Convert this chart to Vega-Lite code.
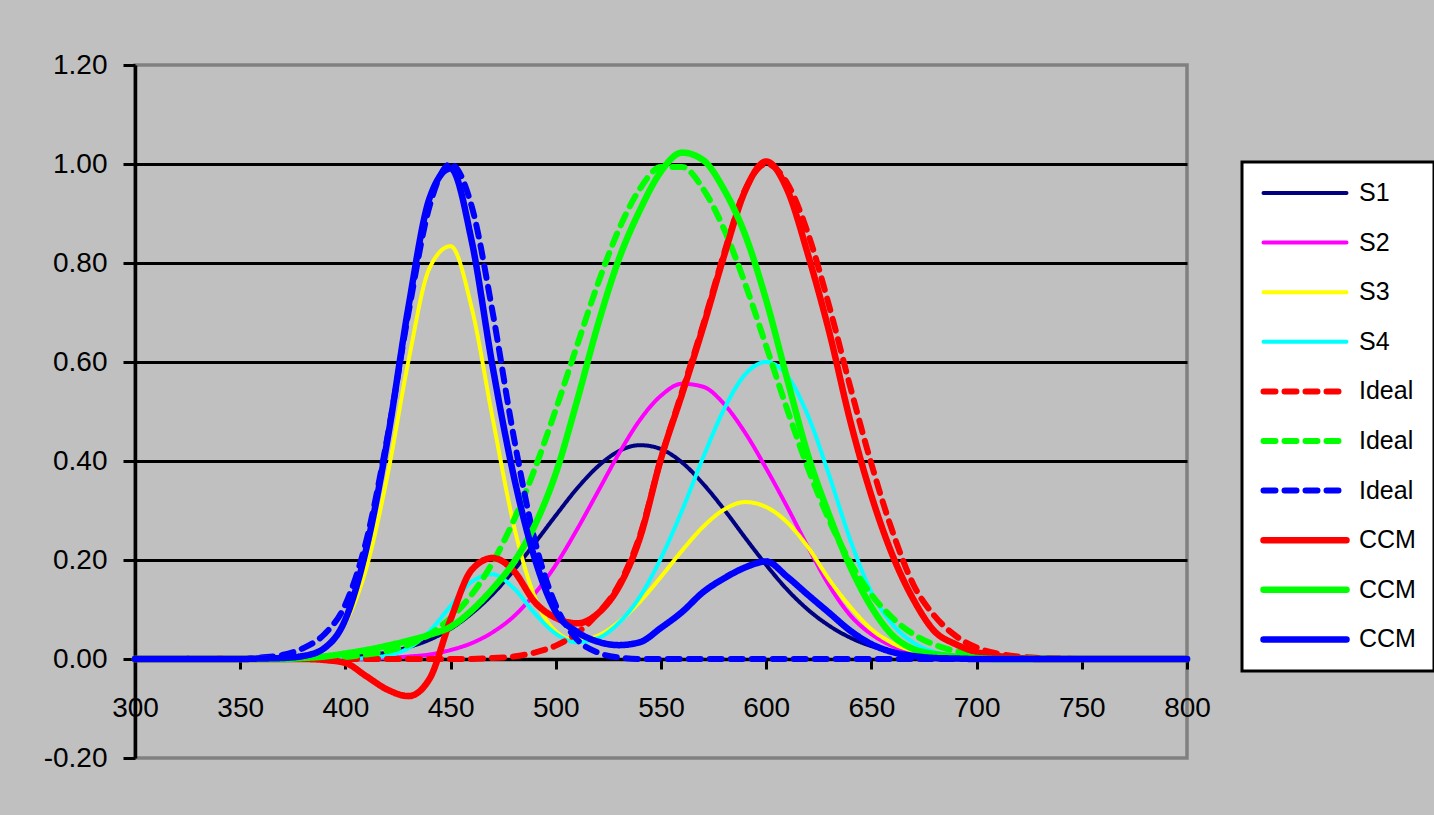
{
"$schema":"https://vega.github.io/schema/vega-lite/v6.json",
"width":1052,"height":693,
"autosize":{"type":"none"},
"padding":{"left":135,"top":65,"right":247,"bottom":57},
"background":"#C0C0C0",
"config":{"font":"Liberation Sans","view":{"stroke":"#808080","strokeWidth":3.5,"fill":"#C0C0C0"}},
"data":{"values":[
{"s":"01 S1","x":300,"y":0},{"s":"01 S1","x":370,"y":0},{"s":"01 S1","x":380,"y":0.001},{"s":"01 S1","x":390,"y":0.002},{"s":"01 S1","x":400,"y":0.004},{"s":"01 S1","x":410,"y":0.008},{"s":"01 S1","x":420,"y":0.013},{"s":"01 S1","x":430,"y":0.024},{"s":"01 S1","x":440,"y":0.039},{"s":"01 S1","x":450,"y":0.061},{"s":"01 S1","x":460,"y":0.092},{"s":"01 S1","x":470,"y":0.131},{"s":"01 S1","x":480,"y":0.179},{"s":"01 S1","x":490,"y":0.234},{"s":"01 S1","x":500,"y":0.29},{"s":"01 S1","x":510,"y":0.344},{"s":"01 S1","x":520,"y":0.389},{"s":"01 S1","x":530,"y":0.42},{"s":"01 S1","x":540,"y":0.432},{"s":"01 S1","x":550,"y":0.424},{"s":"01 S1","x":560,"y":0.397},{"s":"01 S1","x":570,"y":0.354},{"s":"01 S1","x":580,"y":0.302},{"s":"01 S1","x":590,"y":0.245},{"s":"01 S1","x":600,"y":0.19},{"s":"01 S1","x":610,"y":0.14},{"s":"01 S1","x":620,"y":0.099},{"s":"01 S1","x":630,"y":0.067},{"s":"01 S1","x":640,"y":0.043},{"s":"01 S1","x":650,"y":0.026},{"s":"01 S1","x":660,"y":0.015},{"s":"01 S1","x":670,"y":0.008},{"s":"01 S1","x":680,"y":0.004},{"s":"01 S1","x":690,"y":0.002},{"s":"01 S1","x":700,"y":0.001},{"s":"01 S1","x":710,"y":0},{"s":"01 S1","x":800,"y":0},
{"s":"02 S2","x":300,"y":0},{"s":"02 S2","x":410,"y":0},{"s":"02 S2","x":420,"y":0.002},{"s":"02 S2","x":430,"y":0.005},{"s":"02 S2","x":440,"y":0.009},{"s":"02 S2","x":450,"y":0.018},{"s":"02 S2","x":460,"y":0.032},{"s":"02 S2","x":470,"y":0.054},{"s":"02 S2","x":480,"y":0.086},{"s":"02 S2","x":490,"y":0.132},{"s":"02 S2","x":500,"y":0.19},{"s":"02 S2","x":510,"y":0.261},{"s":"02 S2","x":520,"y":0.338},{"s":"02 S2","x":530,"y":0.415},{"s":"02 S2","x":540,"y":0.483},{"s":"02 S2","x":550,"y":0.532},{"s":"02 S2","x":560,"y":0.556},{"s":"02 S2","x":570,"y":0.55},{"s":"02 S2","x":580,"y":0.515},{"s":"02 S2","x":590,"y":0.457},{"s":"02 S2","x":600,"y":0.385},{"s":"02 S2","x":610,"y":0.307},{"s":"02 S2","x":620,"y":0.225},{"s":"02 S2","x":630,"y":0.148},{"s":"02 S2","x":640,"y":0.088},{"s":"02 S2","x":650,"y":0.05},{"s":"02 S2","x":660,"y":0.026},{"s":"02 S2","x":670,"y":0.012},{"s":"02 S2","x":680,"y":0.005},{"s":"02 S2","x":690,"y":0.002},{"s":"02 S2","x":700,"y":0},{"s":"02 S2","x":800,"y":0},
{"s":"03 S3","x":300,"y":0},{"s":"03 S3","x":360,"y":0},{"s":"03 S3","x":370,"y":0.001},{"s":"03 S3","x":380,"y":0.006},{"s":"03 S3","x":390,"y":0.023},{"s":"03 S3","x":400,"y":0.073},{"s":"03 S3","x":410,"y":0.184},{"s":"03 S3","x":420,"y":0.371},{"s":"03 S3","x":430,"y":0.603},{"s":"03 S3","x":440,"y":0.79},{"s":"03 S3","x":450,"y":0.834},{"s":"03 S3","x":460,"y":0.71},{"s":"03 S3","x":470,"y":0.486},{"s":"03 S3","x":480,"y":0.271},{"s":"03 S3","x":490,"y":0.125},{"s":"03 S3","x":500,"y":0.056},{"s":"03 S3","x":510,"y":0.037},{"s":"03 S3","x":520,"y":0.047},{"s":"03 S3","x":530,"y":0.075},{"s":"03 S3","x":540,"y":0.116},{"s":"03 S3","x":550,"y":0.166},{"s":"03 S3","x":560,"y":0.219},{"s":"03 S3","x":570,"y":0.267},{"s":"03 S3","x":580,"y":0.302},{"s":"03 S3","x":590,"y":0.317},{"s":"03 S3","x":600,"y":0.307},{"s":"03 S3","x":610,"y":0.276},{"s":"03 S3","x":620,"y":0.225},{"s":"03 S3","x":630,"y":0.16},{"s":"03 S3","x":640,"y":0.105},{"s":"03 S3","x":650,"y":0.06},{"s":"03 S3","x":660,"y":0.032},{"s":"03 S3","x":670,"y":0.016},{"s":"03 S3","x":680,"y":0.007},{"s":"03 S3","x":690,"y":0.003},{"s":"03 S3","x":700,"y":0.001},{"s":"03 S3","x":710,"y":0},{"s":"03 S3","x":800,"y":0},
{"s":"04 S4","x":300,"y":0},{"s":"04 S4","x":400,"y":0},{"s":"04 S4","x":410,"y":0.002},{"s":"04 S4","x":420,"y":0.007},{"s":"04 S4","x":430,"y":0.022},{"s":"04 S4","x":440,"y":0.056},{"s":"04 S4","x":450,"y":0.107},{"s":"04 S4","x":460,"y":0.156},{"s":"04 S4","x":470,"y":0.171},{"s":"04 S4","x":480,"y":0.143},{"s":"04 S4","x":490,"y":0.092},{"s":"04 S4","x":500,"y":0.051},{"s":"04 S4","x":510,"y":0.034},{"s":"04 S4","x":520,"y":0.042},{"s":"04 S4","x":530,"y":0.073},{"s":"04 S4","x":540,"y":0.126},{"s":"04 S4","x":550,"y":0.204},{"s":"04 S4","x":560,"y":0.3},{"s":"04 S4","x":570,"y":0.407},{"s":"04 S4","x":580,"y":0.505},{"s":"04 S4","x":590,"y":0.575},{"s":"04 S4","x":600,"y":0.6},{"s":"04 S4","x":610,"y":0.572},{"s":"04 S4","x":620,"y":0.49},{"s":"04 S4","x":630,"y":0.37},{"s":"04 S4","x":640,"y":0.24},{"s":"04 S4","x":650,"y":0.135},{"s":"04 S4","x":660,"y":0.07},{"s":"04 S4","x":670,"y":0.033},{"s":"04 S4","x":680,"y":0.014},{"s":"04 S4","x":690,"y":0.005},{"s":"04 S4","x":700,"y":0.002},{"s":"04 S4","x":710,"y":0},{"s":"04 S4","x":800,"y":0},
{"s":"05 Ideal","x":300,"y":0},{"s":"05 Ideal","x":460,"y":0},{"s":"05 Ideal","x":470,"y":0.002},{"s":"05 Ideal","x":480,"y":0.005},{"s":"05 Ideal","x":490,"y":0.013},{"s":"05 Ideal","x":500,"y":0.027},{"s":"05 Ideal","x":510,"y":0.052},{"s":"05 Ideal","x":520,"y":0.092},{"s":"05 Ideal","x":530,"y":0.15},{"s":"05 Ideal","x":540,"y":0.25},{"s":"05 Ideal","x":550,"y":0.405},{"s":"05 Ideal","x":560,"y":0.54},{"s":"05 Ideal","x":570,"y":0.675},{"s":"05 Ideal","x":580,"y":0.82},{"s":"05 Ideal","x":590,"y":0.948},{"s":"05 Ideal","x":600,"y":1.0},{"s":"05 Ideal","x":610,"y":0.961},{"s":"05 Ideal","x":620,"y":0.858},{"s":"05 Ideal","x":630,"y":0.712},{"s":"05 Ideal","x":640,"y":0.549},{"s":"05 Ideal","x":650,"y":0.394},{"s":"05 Ideal","x":660,"y":0.258},{"s":"05 Ideal","x":670,"y":0.15},{"s":"05 Ideal","x":680,"y":0.087},{"s":"05 Ideal","x":690,"y":0.047},{"s":"05 Ideal","x":700,"y":0.023},{"s":"05 Ideal","x":710,"y":0.011},{"s":"05 Ideal","x":720,"y":0.005},{"s":"05 Ideal","x":730,"y":0.002},{"s":"05 Ideal","x":740,"y":0.001},{"s":"05 Ideal","x":750,"y":0},{"s":"05 Ideal","x":800,"y":0},
{"s":"06 Ideal","x":300,"y":0},{"s":"06 Ideal","x":370,"y":0},{"s":"06 Ideal","x":380,"y":0.001},{"s":"06 Ideal","x":390,"y":0.002},{"s":"06 Ideal","x":400,"y":0.004},{"s":"06 Ideal","x":410,"y":0.009},{"s":"06 Ideal","x":420,"y":0.016},{"s":"06 Ideal","x":430,"y":0.029},{"s":"06 Ideal","x":440,"y":0.05},{"s":"06 Ideal","x":450,"y":0.083},{"s":"06 Ideal","x":460,"y":0.13},{"s":"06 Ideal","x":470,"y":0.195},{"s":"06 Ideal","x":480,"y":0.28},{"s":"06 Ideal","x":490,"y":0.384},{"s":"06 Ideal","x":500,"y":0.504},{"s":"06 Ideal","x":510,"y":0.632},{"s":"06 Ideal","x":520,"y":0.758},{"s":"06 Ideal","x":530,"y":0.868},{"s":"06 Ideal","x":540,"y":0.95},{"s":"06 Ideal","x":550,"y":0.994},{"s":"06 Ideal","x":560,"y":0.994},{"s":"06 Ideal","x":570,"y":0.95},{"s":"06 Ideal","x":580,"y":0.868},{"s":"06 Ideal","x":590,"y":0.758},{"s":"06 Ideal","x":600,"y":0.632},{"s":"06 Ideal","x":610,"y":0.504},{"s":"06 Ideal","x":620,"y":0.384},{"s":"06 Ideal","x":630,"y":0.28},{"s":"06 Ideal","x":640,"y":0.195},{"s":"06 Ideal","x":650,"y":0.13},{"s":"06 Ideal","x":660,"y":0.083},{"s":"06 Ideal","x":670,"y":0.05},{"s":"06 Ideal","x":680,"y":0.029},{"s":"06 Ideal","x":690,"y":0.016},{"s":"06 Ideal","x":700,"y":0.009},{"s":"06 Ideal","x":710,"y":0.004},{"s":"06 Ideal","x":720,"y":0.002},{"s":"06 Ideal","x":730,"y":0.001},{"s":"06 Ideal","x":740,"y":0},{"s":"06 Ideal","x":800,"y":0},
{"s":"07 Ideal","x":300,"y":0},{"s":"07 Ideal","x":350,"y":0},{"s":"07 Ideal","x":360,"y":0.003},{"s":"07 Ideal","x":370,"y":0.008},{"s":"07 Ideal","x":380,"y":0.022},{"s":"07 Ideal","x":390,"y":0.05},{"s":"07 Ideal","x":400,"y":0.11},{"s":"07 Ideal","x":410,"y":0.24},{"s":"07 Ideal","x":420,"y":0.449},{"s":"07 Ideal","x":430,"y":0.7},{"s":"07 Ideal","x":440,"y":0.915},{"s":"07 Ideal","x":450,"y":1.0},{"s":"07 Ideal","x":460,"y":0.915},{"s":"07 Ideal","x":470,"y":0.7},{"s":"07 Ideal","x":480,"y":0.449},{"s":"07 Ideal","x":490,"y":0.24},{"s":"07 Ideal","x":500,"y":0.108},{"s":"07 Ideal","x":510,"y":0.04},{"s":"07 Ideal","x":520,"y":0.013},{"s":"07 Ideal","x":530,"y":0.003},{"s":"07 Ideal","x":540,"y":0},{"s":"07 Ideal","x":800,"y":0},
{"s":"08 CCM","x":300,"y":0},{"s":"08 CCM","x":380,"y":0},{"s":"08 CCM","x":390,"y":-0.002},{"s":"08 CCM","x":400,"y":-0.008},{"s":"08 CCM","x":410,"y":-0.035},{"s":"08 CCM","x":420,"y":-0.062},{"s":"08 CCM","x":430,"y":-0.075},{"s":"08 CCM","x":440,"y":-0.04},{"s":"08 CCM","x":450,"y":0.08},{"s":"08 CCM","x":460,"y":0.18},{"s":"08 CCM","x":470,"y":0.204},{"s":"08 CCM","x":480,"y":0.178},{"s":"08 CCM","x":490,"y":0.115},{"s":"08 CCM","x":500,"y":0.083},{"s":"08 CCM","x":510,"y":0.072},{"s":"08 CCM","x":520,"y":0.092},{"s":"08 CCM","x":530,"y":0.146},{"s":"08 CCM","x":540,"y":0.245},{"s":"08 CCM","x":550,"y":0.405},{"s":"08 CCM","x":560,"y":0.535},{"s":"08 CCM","x":570,"y":0.67},{"s":"08 CCM","x":580,"y":0.815},{"s":"08 CCM","x":590,"y":0.946},{"s":"08 CCM","x":600,"y":1.005},{"s":"08 CCM","x":610,"y":0.948},{"s":"08 CCM","x":620,"y":0.815},{"s":"08 CCM","x":630,"y":0.66},{"s":"08 CCM","x":640,"y":0.48},{"s":"08 CCM","x":650,"y":0.33},{"s":"08 CCM","x":660,"y":0.21},{"s":"08 CCM","x":670,"y":0.12},{"s":"08 CCM","x":680,"y":0.056},{"s":"08 CCM","x":690,"y":0.03},{"s":"08 CCM","x":700,"y":0.014},{"s":"08 CCM","x":710,"y":0.006},{"s":"08 CCM","x":720,"y":0.002},{"s":"08 CCM","x":730,"y":0},{"s":"08 CCM","x":800,"y":0},
{"s":"09 CCM","x":300,"y":0},{"s":"09 CCM","x":370,"y":0},{"s":"09 CCM","x":380,"y":0.002},{"s":"09 CCM","x":390,"y":0.005},{"s":"09 CCM","x":400,"y":0.011},{"s":"09 CCM","x":410,"y":0.018},{"s":"09 CCM","x":420,"y":0.027},{"s":"09 CCM","x":430,"y":0.037},{"s":"09 CCM","x":440,"y":0.049},{"s":"09 CCM","x":450,"y":0.065},{"s":"09 CCM","x":460,"y":0.098},{"s":"09 CCM","x":470,"y":0.142},{"s":"09 CCM","x":480,"y":0.195},{"s":"09 CCM","x":490,"y":0.27},{"s":"09 CCM","x":500,"y":0.375},{"s":"09 CCM","x":510,"y":0.52},{"s":"09 CCM","x":520,"y":0.675},{"s":"09 CCM","x":530,"y":0.808},{"s":"09 CCM","x":540,"y":0.907},{"s":"09 CCM","x":550,"y":0.985},{"s":"09 CCM","x":560,"y":1.023},{"s":"09 CCM","x":570,"y":1.008},{"s":"09 CCM","x":580,"y":0.948},{"s":"09 CCM","x":590,"y":0.857},{"s":"09 CCM","x":600,"y":0.725},{"s":"09 CCM","x":610,"y":0.565},{"s":"09 CCM","x":620,"y":0.41},{"s":"09 CCM","x":630,"y":0.29},{"s":"09 CCM","x":640,"y":0.186},{"s":"09 CCM","x":650,"y":0.105},{"s":"09 CCM","x":660,"y":0.048},{"s":"09 CCM","x":670,"y":0.02},{"s":"09 CCM","x":680,"y":0.01},{"s":"09 CCM","x":690,"y":0.005},{"s":"09 CCM","x":700,"y":0.002},{"s":"09 CCM","x":710,"y":0},{"s":"09 CCM","x":800,"y":0},
{"s":"10 CCM","x":300,"y":0},{"s":"10 CCM","x":350,"y":0},{"s":"10 CCM","x":360,"y":0.001},{"s":"10 CCM","x":370,"y":0.002},{"s":"10 CCM","x":380,"y":0.006},{"s":"10 CCM","x":390,"y":0.022},{"s":"10 CCM","x":400,"y":0.08},{"s":"10 CCM","x":410,"y":0.224},{"s":"10 CCM","x":420,"y":0.443},{"s":"10 CCM","x":430,"y":0.712},{"s":"10 CCM","x":440,"y":0.931},{"s":"10 CCM","x":450,"y":0.991},{"s":"10 CCM","x":460,"y":0.845},{"s":"10 CCM","x":470,"y":0.59},{"s":"10 CCM","x":480,"y":0.37},{"s":"10 CCM","x":490,"y":0.203},{"s":"10 CCM","x":500,"y":0.095},{"s":"10 CCM","x":510,"y":0.055},{"s":"10 CCM","x":520,"y":0.035},{"s":"10 CCM","x":530,"y":0.028},{"s":"10 CCM","x":540,"y":0.034},{"s":"10 CCM","x":550,"y":0.063},{"s":"10 CCM","x":560,"y":0.095},{"s":"10 CCM","x":570,"y":0.135},{"s":"10 CCM","x":580,"y":0.163},{"s":"10 CCM","x":590,"y":0.185},{"s":"10 CCM","x":600,"y":0.197},{"s":"10 CCM","x":610,"y":0.166},{"s":"10 CCM","x":620,"y":0.129},{"s":"10 CCM","x":630,"y":0.093},{"s":"10 CCM","x":640,"y":0.057},{"s":"10 CCM","x":650,"y":0.03},{"s":"10 CCM","x":660,"y":0.014},{"s":"10 CCM","x":670,"y":0.006},{"s":"10 CCM","x":680,"y":0.002},{"s":"10 CCM","x":690,"y":0.001},{"s":"10 CCM","x":700,"y":0},{"s":"10 CCM","x":800,"y":0}
]},
"mark":{"type":"line","interpolate":"monotone","strokeCap":"round","strokeJoin":"round"},
"encoding":{
"x":{"field":"x","type":"quantitative","scale":{"domain":[300,800],"nice":false,"zero":false},
 "axis":{"values":[300,350,400,450,500,550,600,650,700,750,800],"title":null,"grid":false,"offset":-99,"tickSize":10,"tickWidth":3,"tickColor":"black","domainColor":"black","domainWidth":3.5,"labelFontSize":28,"labelPadding":25,"labelColor":"black","labelFlush":false,"labelOverlap":false}},
"y":{"field":"y","type":"quantitative","scale":{"domain":[-0.2,1.2],"nice":false,"zero":false},
 "axis":{"values":[-0.2,0,0.2,0.4,0.6,0.8,1.0,1.2],"labelExpr":"datum.value < 0 ? '-' + format(-datum.value, '.2f') : format(datum.value, '.2f')","title":null,"grid":true,"gridColor":"black","gridWidth":3,"gridOpacity":{"condition":{"test":"datum.value > 1.1 || datum.value < -0.1","value":0},"value":1},"tickSize":12,"tickWidth":3,"tickColor":"black","domainColor":"black","domainWidth":3.5,"labelFontSize":28,"labelPadding":16,"labelColor":"black","labelOverlap":false}},
"color":{"field":"s","type":"nominal","scale":{"domain":["01 S1","02 S2","03 S3","04 S4","05 Ideal","06 Ideal","07 Ideal","08 CCM","09 CCM","10 CCM"],"range":["#000080","#FF00FF","#FFFF00","#00FFFF","#FF0000","#00FF00","#0000FF","#FF0000","#00FF00","#0000FF"]},
 "legend":{"title":null,"orient":"none","legendX":1107,"legendY":97,"padding":18,"strokeColor":"black","fillColor":"white","symbolType":"stroke","symbolSize":6889,"clipHeight":26,"labelFontSize":25,"labelOffset":9,"rowPadding":23.6,"labelColor":"black","labelExpr":"slice(datum.label, 3)","encode":{"legend":{"update":{"strokeWidth":{"value":3}}},"symbols":{"update":{"strokeCap":{"value":"round"}}}}}},
"strokeDash":{"field":"s","type":"nominal","scale":{"domain":["01 S1","02 S2","03 S3","04 S4","05 Ideal","06 Ideal","07 Ideal","08 CCM","09 CCM","10 CCM"],"range":[[1,0],[1,0],[1,0],[1,0],[12,9],[12,9],[12,9],[1,0],[1,0],[1,0]]},
 "legend":{"title":null,"orient":"none","legendX":1107,"legendY":97,"padding":18,"strokeColor":"black","fillColor":"white","symbolType":"stroke","symbolSize":6889,"clipHeight":26,"labelFontSize":25,"labelOffset":9,"rowPadding":23.6,"labelColor":"black","labelExpr":"slice(datum.label, 3)","encode":{"legend":{"update":{"strokeWidth":{"value":3}}},"symbols":{"update":{"strokeCap":{"value":"round"}}}}}},
"strokeWidth":{"field":"s","type":"nominal","scale":{"type":"ordinal","domain":["01 S1","02 S2","03 S3","04 S4","05 Ideal","06 Ideal","07 Ideal","08 CCM","09 CCM","10 CCM"],"range":[4,4,4,4,6,6,6,6.5,6.5,6.5]},
 "legend":{"title":null,"orient":"none","legendX":1107,"legendY":97,"padding":18,"strokeColor":"black","fillColor":"white","symbolType":"stroke","symbolSize":6889,"clipHeight":26,"labelFontSize":25,"labelOffset":9,"rowPadding":23.6,"labelColor":"black","labelExpr":"slice(datum.label, 3)","encode":{"legend":{"update":{"strokeWidth":{"value":3}}},"symbols":{"update":{"strokeCap":{"value":"round"}}}}}}
}
}
